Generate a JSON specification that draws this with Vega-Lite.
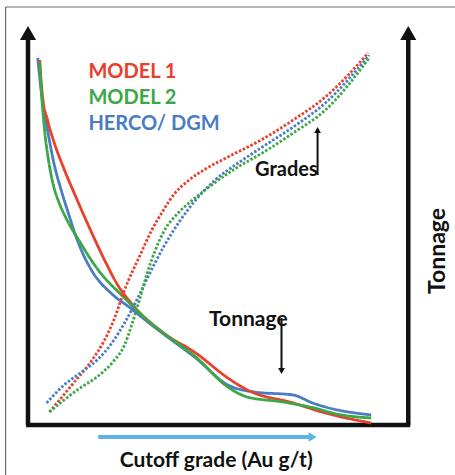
{
  "$schema": "https://vega.github.io/schema/vega-lite/v6.json",
  "width": 390,
  "height": 400,
  "autosize": {"type": "none"},
  "padding": {"left": 28, "top": 25, "right": 37, "bottom": 50},
  "background": "white",
  "config": {"view": {"stroke": null}},
  "resolve": {"scale": {"color": "independent", "strokeDash": "independent"}},
  "layer": [
    {
      "data": {"values": [
        {"x": -23, "y": -60, "x2": -23, "y2": 418},
        {"x": -23, "y": 418, "x2": 440, "y2": 418}
      ]},
      "mark": {"type": "rule", "color": "#6b6b6b", "strokeWidth": 1.2},
      "encoding": {
        "x": {"field": "x", "type": "quantitative", "scale": {"domain": [0, 390]}, "axis": null},
        "y": {"field": "y", "type": "quantitative", "scale": {"domain": [0, 400]}, "axis": null},
        "x2": {"field": "x2"},
        "y2": {"field": "y2"}
      }
    },
    {
      "data": {"values": [
        {"x": 0, "y": 0, "x2": 0, "y2": 392},
        {"x": 390, "y": 0, "x2": 390, "y2": 392},
        {"x": -2, "y": 0, "x2": 392, "y2": 0}
      ]},
      "mark": {"type": "rule", "color": "#111111", "strokeWidth": 4.5},
      "encoding": {
        "x": {"field": "x", "type": "quantitative"},
        "y": {"field": "y", "type": "quantitative"},
        "x2": {"field": "x2"},
        "y2": {"field": "y2"}
      }
    },
    {
      "data": {"values": [
        {"x": 0, "y": 392},
        {"x": 390, "y": 392}
      ]},
      "mark": {"type": "point", "shape": "triangle-up", "filled": true, "color": "#111111", "size": 260, "opacity": 1},
      "encoding": {
        "x": {"field": "x", "type": "quantitative"},
        "y": {"field": "y", "type": "quantitative"}
      }
    },
    {
      "data": {"values": [
        {"series": "HERCO/ DGM", "kind": "Tonnage", "x": 10, "y": 367},
        {"series": "HERCO/ DGM", "kind": "Tonnage", "x": 14, "y": 330},
        {"series": "HERCO/ DGM", "kind": "Tonnage", "x": 20, "y": 295},
        {"series": "HERCO/ DGM", "kind": "Tonnage", "x": 27, "y": 260},
        {"series": "HERCO/ DGM", "kind": "Tonnage", "x": 34, "y": 235},
        {"series": "HERCO/ DGM", "kind": "Tonnage", "x": 42, "y": 210},
        {"series": "HERCO/ DGM", "kind": "Tonnage", "x": 49, "y": 189},
        {"series": "HERCO/ DGM", "kind": "Tonnage", "x": 65, "y": 155},
        {"series": "HERCO/ DGM", "kind": "Tonnage", "x": 85, "y": 132},
        {"series": "HERCO/ DGM", "kind": "Tonnage", "x": 105, "y": 117},
        {"series": "HERCO/ DGM", "kind": "Tonnage", "x": 119, "y": 106},
        {"series": "HERCO/ DGM", "kind": "Tonnage", "x": 139, "y": 91},
        {"series": "HERCO/ DGM", "kind": "Tonnage", "x": 172, "y": 67},
        {"series": "HERCO/ DGM", "kind": "Tonnage", "x": 205, "y": 40},
        {"series": "HERCO/ DGM", "kind": "Tonnage", "x": 232, "y": 33},
        {"series": "HERCO/ DGM", "kind": "Tonnage", "x": 272, "y": 30},
        {"series": "HERCO/ DGM", "kind": "Tonnage", "x": 292, "y": 22},
        {"series": "HERCO/ DGM", "kind": "Tonnage", "x": 305, "y": 18},
        {"series": "HERCO/ DGM", "kind": "Tonnage", "x": 352, "y": 10},

        {"series": "MODEL 1", "kind": "Tonnage", "x": 12, "y": 365},
        {"series": "MODEL 1", "kind": "Tonnage", "x": 13, "y": 350},
        {"series": "MODEL 1", "kind": "Tonnage", "x": 15, "y": 328},
        {"series": "MODEL 1", "kind": "Tonnage", "x": 20, "y": 305},
        {"series": "MODEL 1", "kind": "Tonnage", "x": 27, "y": 282},
        {"series": "MODEL 1", "kind": "Tonnage", "x": 37, "y": 256},
        {"series": "MODEL 1", "kind": "Tonnage", "x": 50, "y": 226},
        {"series": "MODEL 1", "kind": "Tonnage", "x": 65, "y": 193},
        {"series": "MODEL 1", "kind": "Tonnage", "x": 80, "y": 162},
        {"series": "MODEL 1", "kind": "Tonnage", "x": 92, "y": 140},
        {"series": "MODEL 1", "kind": "Tonnage", "x": 104, "y": 124},
        {"series": "MODEL 1", "kind": "Tonnage", "x": 118, "y": 109},
        {"series": "MODEL 1", "kind": "Tonnage", "x": 139, "y": 92},
        {"series": "MODEL 1", "kind": "Tonnage", "x": 172, "y": 72},
        {"series": "MODEL 1", "kind": "Tonnage", "x": 205, "y": 47},
        {"series": "MODEL 1", "kind": "Tonnage", "x": 225, "y": 35},
        {"series": "MODEL 1", "kind": "Tonnage", "x": 272, "y": 22},
        {"series": "MODEL 1", "kind": "Tonnage", "x": 305, "y": 12},
        {"series": "MODEL 1", "kind": "Tonnage", "x": 352, "y": 2},

        {"series": "MODEL 2", "kind": "Tonnage", "x": 12, "y": 363},
        {"series": "MODEL 2", "kind": "Tonnage", "x": 14, "y": 330},
        {"series": "MODEL 2", "kind": "Tonnage", "x": 17, "y": 295},
        {"series": "MODEL 2", "kind": "Tonnage", "x": 21, "y": 265},
        {"series": "MODEL 2", "kind": "Tonnage", "x": 26, "y": 240},
        {"series": "MODEL 2", "kind": "Tonnage", "x": 32, "y": 222},
        {"series": "MODEL 2", "kind": "Tonnage", "x": 40, "y": 205},
        {"series": "MODEL 2", "kind": "Tonnage", "x": 52, "y": 185},
        {"series": "MODEL 2", "kind": "Tonnage", "x": 72, "y": 155},
        {"series": "MODEL 2", "kind": "Tonnage", "x": 99, "y": 127},
        {"series": "MODEL 2", "kind": "Tonnage", "x": 119, "y": 108},
        {"series": "MODEL 2", "kind": "Tonnage", "x": 139, "y": 92},
        {"series": "MODEL 2", "kind": "Tonnage", "x": 172, "y": 68},
        {"series": "MODEL 2", "kind": "Tonnage", "x": 205, "y": 38},
        {"series": "MODEL 2", "kind": "Tonnage", "x": 225, "y": 28},
        {"series": "MODEL 2", "kind": "Tonnage", "x": 262, "y": 23},
        {"series": "MODEL 2", "kind": "Tonnage", "x": 289, "y": 18},
        {"series": "MODEL 2", "kind": "Tonnage", "x": 322, "y": 10},
        {"series": "MODEL 2", "kind": "Tonnage", "x": 352, "y": 7},

        {"series": "MODEL 1", "kind": "Grades", "x": 22, "y": 13},
        {"series": "MODEL 1", "kind": "Grades", "x": 45, "y": 40},
        {"series": "MODEL 1", "kind": "Grades", "x": 65, "y": 64},
        {"series": "MODEL 1", "kind": "Grades", "x": 78, "y": 84},
        {"series": "MODEL 1", "kind": "Grades", "x": 88, "y": 105},
        {"series": "MODEL 1", "kind": "Grades", "x": 99, "y": 135},
        {"series": "MODEL 1", "kind": "Grades", "x": 115, "y": 170},
        {"series": "MODEL 1", "kind": "Grades", "x": 127, "y": 195},
        {"series": "MODEL 1", "kind": "Grades", "x": 139, "y": 215},
        {"series": "MODEL 1", "kind": "Grades", "x": 150, "y": 231},
        {"series": "MODEL 1", "kind": "Grades", "x": 164, "y": 244},
        {"series": "MODEL 1", "kind": "Grades", "x": 182, "y": 256},
        {"series": "MODEL 1", "kind": "Grades", "x": 205, "y": 268},
        {"series": "MODEL 1", "kind": "Grades", "x": 239, "y": 285},
        {"series": "MODEL 1", "kind": "Grades", "x": 272, "y": 305},
        {"series": "MODEL 1", "kind": "Grades", "x": 305, "y": 328},
        {"series": "MODEL 1", "kind": "Grades", "x": 349, "y": 372},

        {"series": "HERCO/ DGM", "kind": "Grades", "x": 19, "y": 22},
        {"series": "HERCO/ DGM", "kind": "Grades", "x": 37, "y": 40},
        {"series": "HERCO/ DGM", "kind": "Grades", "x": 55, "y": 53},
        {"series": "HERCO/ DGM", "kind": "Grades", "x": 72, "y": 66},
        {"series": "HERCO/ DGM", "kind": "Grades", "x": 86, "y": 82},
        {"series": "HERCO/ DGM", "kind": "Grades", "x": 99, "y": 102},
        {"series": "HERCO/ DGM", "kind": "Grades", "x": 110, "y": 122},
        {"series": "HERCO/ DGM", "kind": "Grades", "x": 125, "y": 152},
        {"series": "HERCO/ DGM", "kind": "Grades", "x": 139, "y": 178},
        {"series": "HERCO/ DGM", "kind": "Grades", "x": 155, "y": 203},
        {"series": "HERCO/ DGM", "kind": "Grades", "x": 172, "y": 225},
        {"series": "HERCO/ DGM", "kind": "Grades", "x": 192, "y": 245},
        {"series": "HERCO/ DGM", "kind": "Grades", "x": 217, "y": 263},
        {"series": "HERCO/ DGM", "kind": "Grades", "x": 242, "y": 279},
        {"series": "HERCO/ DGM", "kind": "Grades", "x": 272, "y": 298},
        {"series": "HERCO/ DGM", "kind": "Grades", "x": 305, "y": 322},
        {"series": "HERCO/ DGM", "kind": "Grades", "x": 350, "y": 370},

        {"series": "MODEL 2", "kind": "Grades", "x": 22, "y": 13},
        {"series": "MODEL 2", "kind": "Grades", "x": 37, "y": 25},
        {"series": "MODEL 2", "kind": "Grades", "x": 55, "y": 38},
        {"series": "MODEL 2", "kind": "Grades", "x": 72, "y": 49},
        {"series": "MODEL 2", "kind": "Grades", "x": 87, "y": 63},
        {"series": "MODEL 2", "kind": "Grades", "x": 99, "y": 80},
        {"series": "MODEL 2", "kind": "Grades", "x": 106, "y": 99},
        {"series": "MODEL 2", "kind": "Grades", "x": 114, "y": 124},
        {"series": "MODEL 2", "kind": "Grades", "x": 122, "y": 151},
        {"series": "MODEL 2", "kind": "Grades", "x": 139, "y": 193},
        {"series": "MODEL 2", "kind": "Grades", "x": 155, "y": 213},
        {"series": "MODEL 2", "kind": "Grades", "x": 170, "y": 226},
        {"series": "MODEL 2", "kind": "Grades", "x": 187, "y": 239},
        {"series": "MODEL 2", "kind": "Grades", "x": 212, "y": 256},
        {"series": "MODEL 2", "kind": "Grades", "x": 242, "y": 273},
        {"series": "MODEL 2", "kind": "Grades", "x": 272, "y": 292},
        {"series": "MODEL 2", "kind": "Grades", "x": 305, "y": 315},
        {"series": "MODEL 2", "kind": "Grades", "x": 350, "y": 367}
      ]},
      "mark": {"type": "line", "interpolate": "monotone", "strokeWidth": 2.8},
      "encoding": {
        "x": {"field": "x", "type": "quantitative"},
        "y": {"field": "y", "type": "quantitative"},
        "detail": {"field": "kind"},
        "color": {"field": "series", "type": "nominal", "legend": null,
          "scale": {"domain": ["MODEL 1", "MODEL 2", "HERCO/ DGM"], "range": ["#e8402a", "#3aa846", "#4a7cc4"]}},
        "strokeDash": {"field": "kind", "type": "nominal", "legend": null,
          "scale": {"domain": ["Tonnage", "Grades"], "range": [[1, 0], [2.5, 1.8]]}},
        "order": {"field": "x", "type": "quantitative"}
      }
    },
    {
      "data": {"values": [
        {"x": 297, "y": 250, "x2": 297, "y2": 294},
        {"x": 260, "y": 107, "x2": 260, "y2": 56}
      ]},
      "mark": {"type": "rule", "color": "#111111", "strokeWidth": 2},
      "encoding": {
        "x": {"field": "x", "type": "quantitative"},
        "y": {"field": "y", "type": "quantitative"},
        "x2": {"field": "x2"},
        "y2": {"field": "y2"}
      }
    },
    {
      "data": {"values": [
        {"x": 297, "y": 295, "dir": "up"},
        {"x": 260, "y": 54, "dir": "down"}
      ]},
      "mark": {"type": "point", "filled": true, "color": "#111111", "size": 45, "opacity": 1},
      "encoding": {
        "x": {"field": "x", "type": "quantitative"},
        "y": {"field": "y", "type": "quantitative"},
        "shape": {"field": "dir", "type": "nominal", "legend": null,
          "scale": {"domain": ["up", "down", "right"], "range": ["triangle-up", "triangle-down", "triangle-right"]}}
      }
    },
    {
      "data": {"values": [
        {"x": 72, "y": -12, "x2": 290, "y2": -12}
      ]},
      "mark": {"type": "rule", "color": "#5db5e6", "strokeWidth": 4},
      "encoding": {
        "x": {"field": "x", "type": "quantitative"},
        "y": {"field": "y", "type": "quantitative"},
        "x2": {"field": "x2"},
        "y2": {"field": "y2"}
      }
    },
    {
      "data": {"values": [
        {"x": 292, "y": -12}
      ]},
      "mark": {"type": "point", "shape": "triangle-right", "filled": true, "color": "#5db5e6", "size": 90, "opacity": 1},
      "encoding": {
        "x": {"field": "x", "type": "quantitative"},
        "y": {"field": "y", "type": "quantitative"}
      }
    },
    {
      "data": {"values": [
        {"x": 62, "y": 353, "label": "MODEL 1", "series": "MODEL 1"},
        {"x": 62, "y": 327, "label": "MODEL 2", "series": "MODEL 2"},
        {"x": 62, "y": 301, "label": "HERCO/ DGM", "series": "HERCO/ DGM"}
      ]},
      "mark": {"type": "text", "align": "left", "baseline": "middle", "font": "Lato", "fontWeight": "bold", "fontSize": 20},
      "encoding": {
        "x": {"field": "x", "type": "quantitative"},
        "y": {"field": "y", "type": "quantitative"},
        "text": {"field": "label"},
        "color": {"field": "series", "type": "nominal", "legend": null,
          "scale": {"domain": ["MODEL 1", "MODEL 2", "HERCO/ DGM"], "range": ["#e8402a", "#3aa846", "#4a7cc4"]}}
      }
    },
    {
      "data": {"values": [
        {"x": 265, "y": 255, "label": "Grades", "size": "m"},
        {"x": 226, "y": 105, "label": "Tonnage", "size": "l"},
        {"x": 193, "y": -36, "label": "Cutoff grade (Au g/t)", "size": "l"}
      ]},
      "mark": {"type": "text", "align": "center", "baseline": "middle", "font": "Lato", "fontWeight": "bold", "color": "#111111"},
      "encoding": {
        "x": {"field": "x", "type": "quantitative"},
        "y": {"field": "y", "type": "quantitative"},
        "text": {"field": "label"},
        "size": {"field": "size", "type": "nominal", "legend": null, "scale": {"domain": ["m", "l"], "range": [20, 21]}}
      }
    },
    {
      "data": {"values": [
        {"x": 420, "y": 174, "label": "Tonnage"}
      ]},
      "mark": {"type": "text", "align": "center", "baseline": "middle", "angle": 270, "font": "Lato", "fontWeight": "bold", "fontSize": 23, "color": "#111111"},
      "encoding": {
        "x": {"field": "x", "type": "quantitative"},
        "y": {"field": "y", "type": "quantitative"},
        "text": {"field": "label"}
      }
    }
  ]
}
